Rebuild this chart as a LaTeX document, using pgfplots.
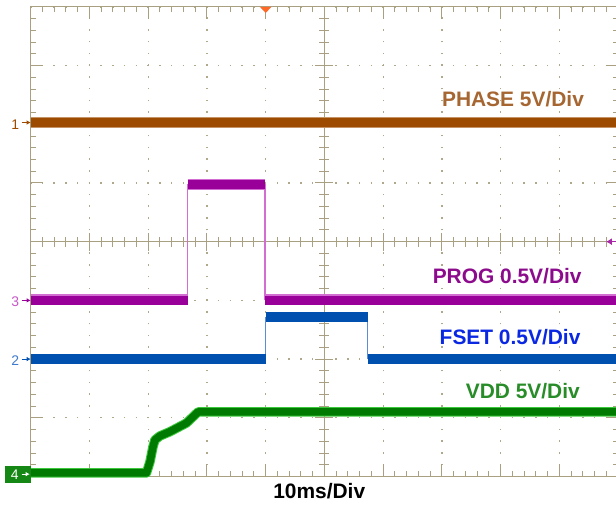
\documentclass[border=0pt]{standalone}
\usepackage{pgfplots}
\pgfplotsset{compat=1.18}
\usepackage{fontspec}
\setmainfont{Liberation Sans}
\usetikzlibrary{arrows.meta}

\definecolor{gridc}{RGB}{168,160,128}
\definecolor{dotc}{RGB}{176,168,138}
\definecolor{phasec}{RGB}{156,75,0}
\definecolor{phasetxt}{RGB}{166,102,50}
\definecolor{progc}{RGB}{153,0,153}
\definecolor{progedge}{RGB}{210,110,210}
\definecolor{progtxt}{RGB}{140,10,140}
\definecolor{fsetc}{RGB}{0,80,176}
\definecolor{fsetedge}{RGB}{90,140,216}
\definecolor{fsettxt}{RGB}{10,40,225}
\definecolor{vddc}{RGB}{0,122,0}
\definecolor{vddedge}{RGB}{60,200,60}
\definecolor{vddtxt}{RGB}{40,140,40}
\definecolor{vddbox}{RGB}{20,135,20}
\definecolor{trigc}{RGB}{255,105,40}

\begin{document}
\begin{tikzpicture}
\begin{axis}[
  scale only axis, width=587.5bp, height=469.6bp,
  xmin=-5, xmax=5, ymin=-4, ymax=4,
  axis line style={gridc, line width=1.2bp},
  xtick={-5,...,5}, ytick={-4,...,4},
  minor x tick num=4, minor y tick num=4,
  xticklabels={}, yticklabels={},
  tick align=inside, tick pos=both,
  major tick length=12bp, minor tick length=5bp,
  tick style={gridc, line width=1bp},
  grid=major,
  major grid style={dotc, line width=1.4bp, dash pattern=on 1.5bp off 10.25bp, dash phase=0.75bp},
  clip=false,
]
% centre cross with its graduations
\draw[gridc, line width=1.3bp] (axis cs:-5,0) -- (axis cs:5,0);
\draw[gridc, line width=1.3bp] (axis cs:0,-4) -- (axis cs:0,4);
\pgfplotsinvokeforeach{-4.8,-4.6,...,4.8}{
  \draw[gridc, line width=1bp] ([yshift=-5bp]axis cs:#1,0) -- ([yshift=5bp]axis cs:#1,0);
}
\pgfplotsinvokeforeach{-3.8,-3.6,...,3.8}{
  \draw[gridc, line width=1bp] ([xshift=-5bp]axis cs:0,#1) -- ([xshift=5bp]axis cs:0,#1);
}
\pgfplotsinvokeforeach{-4,...,4}{
  \draw[gridc, line width=1bp] ([yshift=-9bp]axis cs:#1,0) -- ([yshift=9bp]axis cs:#1,0);
}
\pgfplotsinvokeforeach{-3,...,3}{
  \draw[gridc, line width=1bp] ([xshift=-9bp]axis cs:0,#1) -- ([xshift=9bp]axis cs:0,#1);
}

% channel 1: PHASE
\addplot[phasec!60!white, line width=11bp] coordinates {(-5,2.035) (5,2.035)};
\addplot[phasec, line width=9.5bp] coordinates {(-5,2.03) (5,2.03)};

% channel 2: FSET
\addplot[fsetedge, line width=1.3bp] coordinates {(-1.0,-2.0) (-1.0,-1.29) (0.736,-1.29) (0.736,-2.0)};
\addplot[fsetc, line width=10bp] coordinates {(-5,-2.0) (-1.0,-2.0)};
\addplot[fsetc, line width=10bp] coordinates {(-1.0,-1.29) (0.736,-1.29)};
\addplot[fsetc, line width=10bp] coordinates {(0.736,-2.0) (5,-2.0)};

% channel 3: PROG
\addplot[progedge, line width=1.3bp] coordinates {(-2.328,-1.0) (-2.328,0.97) (-1.01,0.97) (-1.01,-1.0)};
\addplot[progedge, line width=11bp] coordinates {(-5,-0.99) (-2.328,-0.99)};
\addplot[progc, line width=9.5bp] coordinates {(-5,-1.0) (-2.328,-1.0)};
\addplot[progedge, line width=11bp] coordinates {(-2.328,0.98) (-1.01,0.98)};
\addplot[progc, line width=9.5bp] coordinates {(-2.328,0.97) (-1.01,0.97)};
\addplot[progedge, line width=11bp] coordinates {(-1.01,-0.99) (5,-0.99)};
\addplot[progc, line width=9.5bp] coordinates {(-1.01,-1.0) (5,-1.0)};

% channel 4: VDD
\addplot[vddedge, line width=9.5bp, line join=round] coordinates {
  (-5,-3.94) (-3.03,-3.94) (-2.97,-3.75) (-2.92,-3.5) (-2.886,-3.378)
  (-2.80,-3.31) (-2.63,-3.237) (-2.35,-3.09) (-2.15,-2.9) (5,-2.9)};
\addplot[vddc, line width=7.5bp, line join=round] coordinates {
  (-5,-3.94) (-3.03,-3.94) (-2.97,-3.75) (-2.92,-3.5) (-2.886,-3.378)
  (-2.80,-3.31) (-2.63,-3.237) (-2.35,-3.09) (-2.15,-2.9) (5,-2.9)};

% ground reference markers
\draw[phasec, line width=1bp, -{Latex[length=4bp,width=4.5bp]}] ([xshift=-9bp]axis cs:-5,2.03) -- (axis cs:-5,2.03);
\node[text=phasec, font=\fontsize{14}{14}\selectfont, inner sep=0pt] at ([xshift=-15.5bp]axis cs:-5,2.0) {1};
\draw[progc, line width=1bp, -{Latex[length=4bp,width=4.5bp]}] ([xshift=-9bp]axis cs:-5,-1.0) -- (axis cs:-5,-1.0);
\node[text=progedge!80!progc, font=\fontsize{14}{14}\selectfont, inner sep=0pt] at ([xshift=-15.5bp]axis cs:-5,-1.02) {3};
\draw[fsetc, line width=1bp, -{Latex[length=4bp,width=4.5bp]}] ([xshift=-9bp]axis cs:-5,-2.0) -- (axis cs:-5,-2.0);
\node[text=fsetedge!70!fsetc, font=\fontsize{14}{14}\selectfont, inner sep=0pt] at ([xshift=-15.5bp]axis cs:-5,-2.02) {2};
\fill[vddbox] ([xshift=-25.7bp]axis cs:-5,-3.821) rectangle (axis cs:-5,-4.106);
\draw[white, line width=1bp, -{Latex[length=4bp,width=4.5bp]}] ([xshift=-9bp]axis cs:-5,-3.96) -- ([xshift=-1bp]axis cs:-5,-3.96);
\node[text=white, font=\fontsize{14}{14}\selectfont, inner sep=0pt] at ([xshift=-16bp]axis cs:-5,-3.97) {4};

% trigger position and level
\fill[trigc] ([xshift=-5.8bp]axis cs:-1,4) -- ([xshift=5.8bp]axis cs:-1,4) -- ([yshift=-6bp]axis cs:-1,4) -- cycle;
\draw[progc!85!white, line width=1.2bp, -{Latex[length=6bp,width=7bp]}] (axis cs:5,0) -- (axis cs:4.79,0);

% channel captions
\node[anchor=base east, inner sep=0pt, text=phasetxt, font=\bfseries\fontsize{21}{21}\selectfont] at (axis cs:4.42,2.31) {PHASE 5V/Div};
\node[anchor=base east, inner sep=0pt, text=progtxt, font=\bfseries\fontsize{21}{21}\selectfont] at (axis cs:4.38,-0.72) {PROG 0.5V/Div};
\node[anchor=base east, inner sep=0pt, text=fsettxt, font=\bfseries\fontsize{21}{21}\selectfont] at (axis cs:4.36,-1.748) {FSET 0.5V/Div};
\node[anchor=base east, inner sep=0pt, text=vddtxt, font=\bfseries\fontsize{21}{21}\selectfont] at (axis cs:4.35,-2.67) {VDD 5V/Div};
\node[anchor=base, inner sep=0pt, text=black, font=\bfseries\fontsize{21}{21}\selectfont] at (axis cs:-0.089,-4.367) {10ms/Div};

\coordinate (bbsw) at (axis cs:-5.5226,-4.5366);
\coordinate (bbne) at (axis cs:4.9625,4.1175);
\end{axis}
\pgfresetboundingbox
\useasboundingbox (bbsw) rectangle (bbne);
\end{tikzpicture}
\end{document}
